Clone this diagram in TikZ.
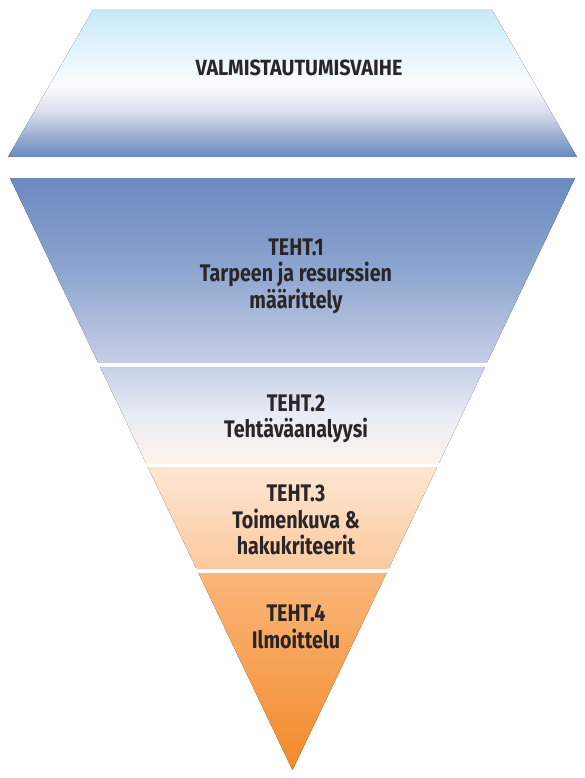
\documentclass[tikz,border=0pt]{standalone}
\usepackage{fontspec}
\newfontfamily\labelfont[FakeStretch=0.82]{Fira Sans}
\newfontfamily\phasefont[FakeStretch=0.9]{Fira Sans}
\definecolor{inkdark}{HTML}{2A2526}
% top slab
\definecolor{ta}{HTML}{C9E9F8}
\definecolor{tb}{HTML}{E6F5FC}
\definecolor{tc}{HTML}{FBFDFE}
\definecolor{td}{HTML}{D9DDEC}
\definecolor{te}{HTML}{9DB0D3}
\definecolor{tf}{HTML}{6787BF}
% funnel bands
\definecolor{oa}{HTML}{6A8AC0}
\definecolor{ob}{HTML}{8DA5CF}
\definecolor{oc}{HTML}{C6CEE6}
\definecolor{pa}{HTML}{C8D0E8}
\definecolor{pb}{HTML}{E9ECF5}
\definecolor{pc}{HTML}{FDF3EA}
\definecolor{qa}{HTML}{FDE6D2}
\definecolor{qb}{HTML}{FBCA9E}
\definecolor{ra}{HTML}{FAB679}
\definecolor{rb}{HTML}{F28A2A}
% a horizontal strip with a vertical colour ramp
\newcommand\ramp[4]{\fill[top color=#3,bottom color=#4] (0,#1) rectangle (585,#2);}
\tikzset{
  phase/.style={font=\phasefont\bfseries\fontsize{22}{26}\selectfont, text=inkdark, align=center},
  task/.style={font=\labelfont\bfseries\fontsize{24}{26.5}\selectfont, text=inkdark, align=center}
}
\begin{document}
\begin{tikzpicture}[x=1pt,y=-1pt]
\useasboundingbox (0,0) rectangle (585,778);
% preparation slab
\begin{scope}
  \clip (93,10) -- (492,10) -- (577,157) -- (8,157) -- cycle;
  \ramp{9.5}{55.5}{ta}{tb}
  \ramp{55}{85.5}{tb}{tc}
  \ramp{85}{112.5}{tc}{td}
  \ramp{112}{135.5}{td}{te}
  \ramp{135}{158}{te}{tf}
\end{scope}
% funnel
\begin{scope}
  \clip (10,178) -- (575,178) -- (292.5,770) -- cycle;
  \ramp{177}{270.5}{oa}{ob}
  \ramp{270}{362}{ob}{oc}
  \ramp{367}{415.5}{pa}{pb}
  \ramp{415}{463}{pb}{pc}
  \ramp{467}{568}{qa}{qb}
  \ramp{573}{771}{ra}{rb}
\end{scope}
% labels
\node[phase] (prep) at (299,68) {VALMISTAUTUMISVAIHE};
\node[task] (t1) at (296,276) {TEHT.1\\Tarpeen ja resurssien\\määrittely};
\node[task] (t2) at (296,419) {TEHT.2\\Tehtäväanalyysi};
\node[task] (t3) at (296,520) {TEHT.3\\Toimenkuva \&\\hakukriteerit};
\node[task] (t4) at (296,627) {TEHT.4\\Ilmoittelu};
\end{tikzpicture}
\end{document}
